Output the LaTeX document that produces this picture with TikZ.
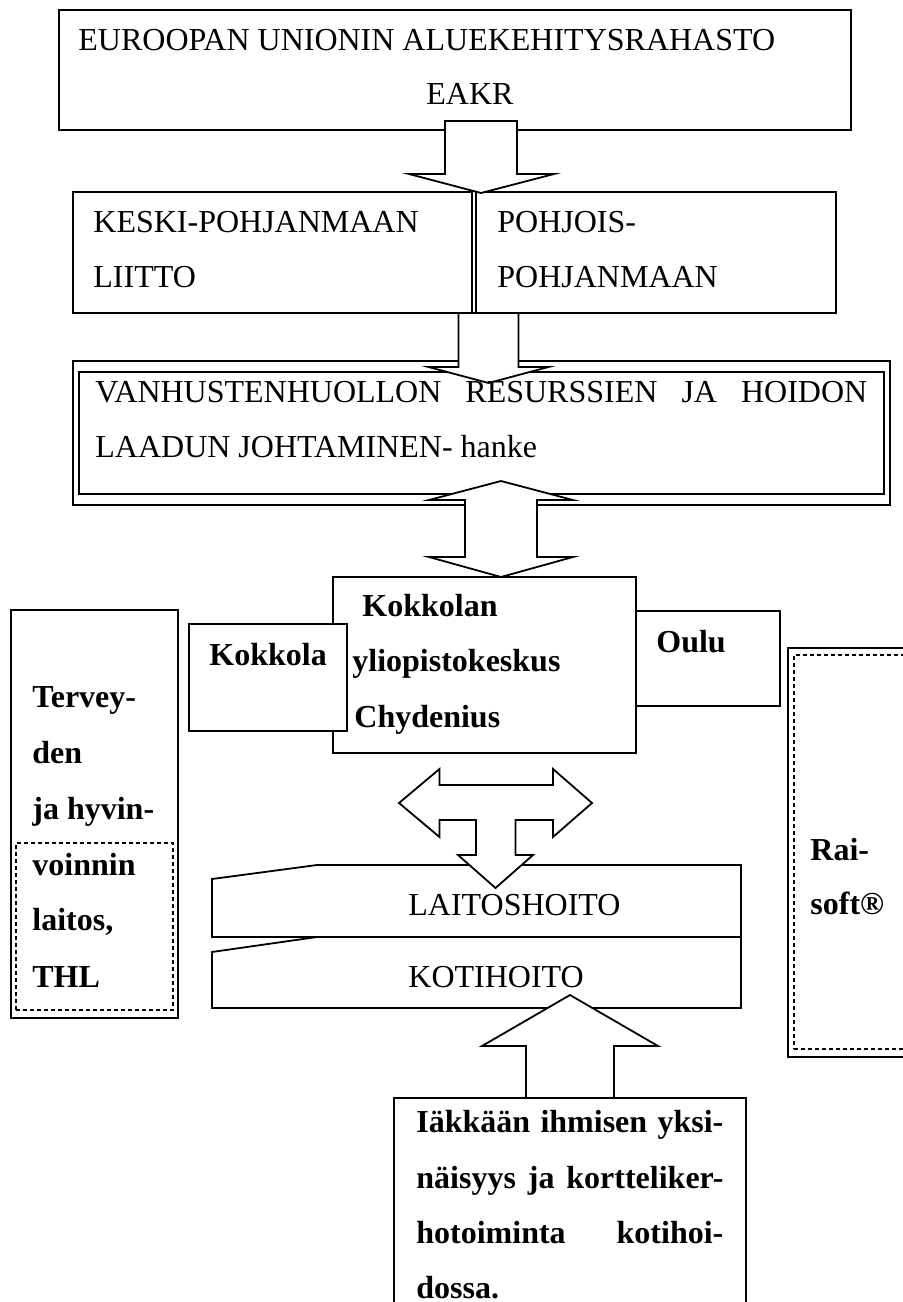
\documentclass[tikz,border=0pt]{standalone}
\usepackage{fontspec}
\setmainfont{Liberation Serif}
\usetikzlibrary{fit}
\begin{document}
\begin{tikzpicture}[x=0.5pt,y=-0.5pt,
  boxst/.style={draw=black, line width=0.9pt, fill=white, inner sep=0pt, outer sep=0pt},
  dashst/.style={draw=black, line width=0.8pt, dash pattern=on 2.2pt off 1.3pt, inner sep=0pt, outer sep=0pt},
  arrowst/.style={draw=black, line width=0.9pt, fill=white, line join=miter},
  txt/.style={inner sep=0pt, anchor=base west, font=\fontsize{16}{19}\selectfont},
  btxt/.style={inner sep=0pt, anchor=base west, font=\fontsize{16}{19}\selectfont\bfseries}]
\useasboundingbox[fill=white] (0,0) rectangle (903,1302);

% ---- boxes ----
\node[boxst, fit={(59,10) (851,130)}] (eu) {};
\node[boxst, fit={(73,192) (472,313)}] (kp) {};
\node[boxst, fit={(476,192) (836,313)}] (pp) {};
\node[boxst, line width=0.7pt, fit={(73,361) (890,505)}] (vh) {};
\node[boxst, fit={(79,372) (884,494)}] (vhin) {};
\node[boxst, fit={(333,577) (636,753)}] (kyc) {};
\node[boxst, fit={(189,624) (347,731)}] (kok) {};
\node[boxst, fit={(636,611) (780,706)}] (oulu) {};
\node[boxst, fit={(11,610) (178,1018)}] (thl) {};
\node[dashst, fit={(16,843) (173,1010)}] (thlin) {};
\node[boxst, fit={(788,648) (915,1057)}] (rai) {};
\node[dashst, fit={(794,655) (915,1049)}] (raiin) {};
\draw[boxst] (212,879) -- (317,865) -- (741,865) -- (741,937) -- (212,937) -- cycle;
\draw[boxst] (212,952) -- (317,937) -- (741,937) -- (741,1008) -- (212,1008) -- cycle;
\node[boxst, fit={(394,1098) (746,1330)}] (ika) {};

% ---- block arrows ----
\draw[arrowst] (445,121) -- (517,121) -- (517,174) -- (554,174) -- (481,193)
  -- (409,174) -- (445,174) -- cycle;
\draw[arrowst] (458.5,313) -- (518.5,313) -- (518.5,367) -- (548.5,367) -- (488.5,383)
  -- (428.5,367) -- (458.5,367) -- cycle;
\draw[arrowst] (501,481) -- (573,500) -- (537,500) -- (537,557) -- (573,557) -- (501,577)
  -- (429,557) -- (465,557) -- (465,500) -- (429,500) -- cycle;
\draw[arrowst] (399,803) -- (439.5,769) -- (439.5,785) -- (553,785) -- (553,769) -- (592,803)
  -- (553,837) -- (553,820) -- (515.5,820) -- (515.5,855) -- (533,855) -- (495.5,888)
  -- (458,855) -- (476,855) -- (476,820) -- (439.5,820) -- (439.5,837) -- cycle;
\draw[arrowst] (570,995) -- (658,1046) -- (614,1046) -- (614,1098) -- (526,1098)
  -- (526,1046) -- (482,1046) -- cycle;

% ---- texts ----
\node[txt] (t1) at (78,50) {EUROOPAN UNIONIN ALUEKEHITYSRAHASTO};
\node[txt] (t2) at (426,104) {EAKR};
\node[txt] (t3) at (93,232) {KESKI-POHJANMAAN};
\node[txt] (t4) at (93,287) {LIITTO};
\node[txt] (t5) at (497,232) {POHJOIS-};
\node[txt] (t6) at (497,287) {POHJANMAAN};
\node[txt] (t7) at (95,402) {\hbox to 386pt{VANHUSTENHUOLLON\hfill RESURSSIEN\hfill JA\hfill HOIDON}};
\node[txt] (t8) at (95,457) {LAADUN JOHTAMINEN- hanke};

\node[btxt] (k1) at (362,616) {Kokkolan};
\node[btxt] (k2) at (352,671) {yliopistokeskus};
\node[btxt] (k3) at (354,727) {Chydenius};
\node[btxt] (k4) at (209,665) {Kokkola};
\node[btxt] (o1) at (656,652) {Oulu};

\node[btxt] (h1) at (32,707) {Tervey-};
\node[btxt] (h2) at (32,763) {den};
\node[btxt] (h3) at (32,819) {ja hyvin-};
\node[btxt] (h4) at (32,875) {voinnin};
\node[btxt] (h5) at (32,930) {laitos,};
\node[btxt] (h6) at (32,987) {THL};

\node[btxt] (r1) at (810,860) {Rai-};
\node[btxt] (r2) at (810,914) {soft®};

\node[txt] (l1) at (408,915) {LAITOSHOITO};
\node[txt] (l2) at (408,987) {KOTIHOITO};

\node[btxt] (b1) at (416,1132) {\hbox to 153.5pt{Iäkkään\hfill ihmisen\hfill yksi-}};
\node[btxt] (b2) at (416,1188) {\hbox to 153.5pt{näisyys\hfill ja\hfill kortteliker-}};
\node[btxt] (b3) at (416,1243) {\hbox to 153.5pt{hotoiminta\hfill kotihoi-}};
\node[btxt] (b4) at (416,1298) {dossa.};
\end{tikzpicture}
\end{document}
